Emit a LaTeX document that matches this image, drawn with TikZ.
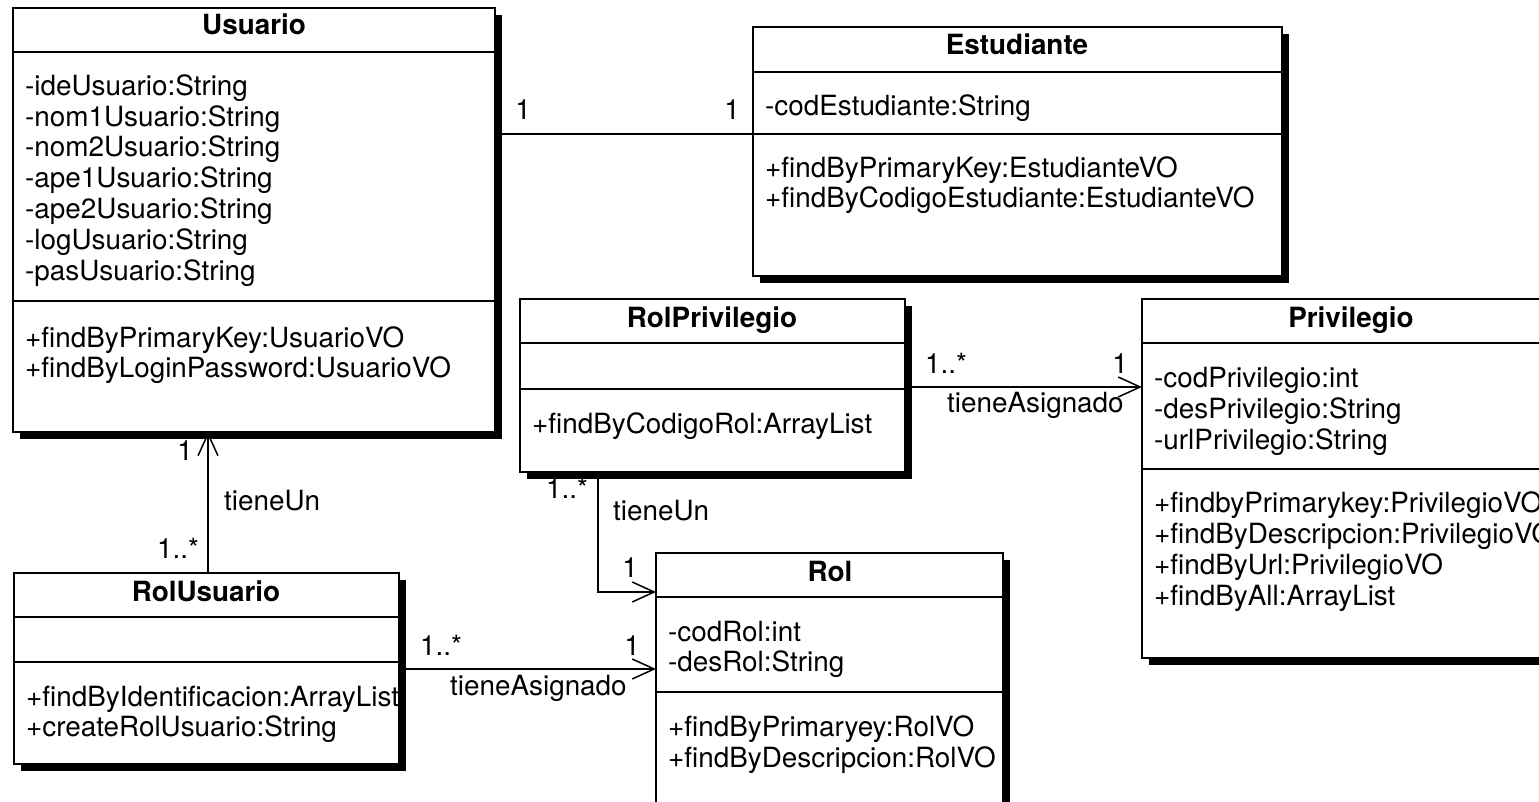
\documentclass[tikz,border=0pt]{standalone}
\usepackage{fontspec}
\setmainfont{TeX Gyre Heros}
\usetikzlibrary{arrows.meta,shadows}
\newcommand\umlfont{\fontsize{27.85}{30.8}\selectfont}
\newcommand\umlbold{\fontsize{27.85}{30.8}\selectfont\bfseries}
\begin{document}
\begin{tikzpicture}[x=1pt,y=-1pt,
  classbox/.style={draw, line width=2pt, fill=white, anchor=north west, inner sep=0pt, outer sep=0pt,
    drop shadow={shadow xshift=7pt, shadow yshift=-7pt, fill=black, opacity=1}},
  sepline/.style={line width=1.6pt},
  txt/.style={anchor=base west, inner sep=0pt, font=\umlfont},
  ttl/.style={anchor=base, inner sep=0pt, font=\umlbold},
  lbl/.style={anchor=base west, inner sep=0pt, font=\umlfont},
  lblc/.style={anchor=base, inner sep=0pt, font=\umlfont},
  assoc/.style={line width=1.5pt},
  nav/.style={assoc, -{Straight Barb[length=22pt,width=20pt]}}]
\useasboundingbox (0,0) rectangle (1539,802);
\clip (0,0) rectangle (1539,802);

% ---------- Usuario ----------
\node[classbox, minimum width=482pt, minimum height=424pt] (usuario) at (13,8) {};
\draw[sepline] ([yshift=-44pt]usuario.north west) -- ([yshift=-44pt]usuario.north east);
\draw[sepline] ([yshift=-293pt]usuario.north west) -- ([yshift=-293pt]usuario.north east);
\node[ttl] (u-t) at (254,35) {Usuario};
\node[txt] (u-a1) at (25,96) {-ideUsuario:String};
\node[txt] (u-a2) at (25,127) {-nom1Usuario:String};
\node[txt] (u-a3) at (25,157) {-nom2Usuario:String};
\node[txt] (u-a4) at (25,188) {-ape1Usuario:String};
\node[txt] (u-a5) at (25,219) {-ape2Usuario:String};
\node[txt] (u-a6) at (25,250) {-logUsuario:String};
\node[txt] (u-a7) at (25,280) {-pasUsuario:String};
\node[txt] (u-o1) at (25,347) {+findByPrimaryKey:UsuarioVO};
\node[txt] (u-o2) at (25,377) {+findByLoginPassword:UsuarioVO};

% ---------- Estudiante ----------
\node[classbox, minimum width=529pt, minimum height=249pt] (estudiante) at (753,27) {};
\draw[sepline] ([yshift=-45pt]estudiante.north west) -- ([yshift=-45pt]estudiante.north east);
\draw[sepline] ([yshift=-107pt]estudiante.north west) -- ([yshift=-107pt]estudiante.north east);
\node[ttl] (e-t) at (1017,55) {Estudiante};
\node[txt] (e-a1) at (765,116) {-codEstudiante:String};
\node[txt] (e-o1) at (765,178) {+findByPrimaryKey:EstudianteVO};
\node[txt] (e-o2) at (765,208) {+findByCodigoEstudiante:EstudianteVO};

% ---------- RolPrivilegio ----------
\node[classbox, minimum width=385pt, minimum height=173pt] (rolpriv) at (520,299) {};
\draw[sepline] ([yshift=-44pt]rolpriv.north west) -- ([yshift=-44pt]rolpriv.north east);
\draw[sepline] ([yshift=-90pt]rolpriv.north west) -- ([yshift=-90pt]rolpriv.north east);
\node[ttl] (rp-t) at (712,327) {RolPrivilegio};
\node[txt] (rp-o1) at (532,433) {+findByCodigoRol:ArrayList};

% ---------- Privilegio ----------
\node[classbox, minimum width=419pt, minimum height=359pt] (privilegio) at (1142,299) {};
\draw[sepline] ([yshift=-44pt]privilegio.north west) -- ([yshift=-44pt]privilegio.north east);
\draw[sepline] ([yshift=-170pt]privilegio.north west) -- ([yshift=-170pt]privilegio.north east);
\node[ttl] (p-t) at (1351,327) {Privilegio};
\node[txt] (p-a1) at (1154,387) {-codPrivilegio:int};
\node[txt] (p-a2) at (1154,418) {-desPrivilegio:String};
\node[txt] (p-a3) at (1154,449) {-urlPrivilegio:String};
\node[txt] (p-o1) at (1154,512) {+findbyPrimarykey:PrivilegioVO};
\node[txt] (p-o2) at (1154,543) {+findByDescripcion:PrivilegioVO};
\node[txt] (p-o3) at (1154,574) {+findByUrl:PrivilegioVO};
\node[txt] (p-o4) at (1154,605) {+findByAll:ArrayList};

% ---------- Rol ----------
\node[classbox, minimum width=347pt, minimum height=269pt] (rol) at (656,553) {};
\draw[sepline] ([yshift=-44pt]rol.north west) -- ([yshift=-44pt]rol.north east);
\draw[sepline] ([yshift=-139pt]rol.north west) -- ([yshift=-139pt]rol.north east);
\node[ttl] (r-t) at (830,581) {Rol};
\node[txt] (r-a1) at (668,641) {-codRol:int};
\node[txt] (r-a2) at (668,671) {-desRol:String};
\node[txt] (r-o1) at (668,736) {+findByPrimaryey:RolVO};
\node[txt] (r-o2) at (668,767) {+findByDescripcion:RolVO};

% ---------- RolUsuario ----------
\node[classbox, minimum width=385pt, minimum height=191pt] (rolusuario) at (14,573) {};
\draw[sepline] ([yshift=-44pt]rolusuario.north west) -- ([yshift=-44pt]rolusuario.north east);
\draw[sepline] ([yshift=-89pt]rolusuario.north west) -- ([yshift=-89pt]rolusuario.north east);
\node[ttl] (ru-t) at (206,601) {RolUsuario};
\node[txt] (ru-o1) at (26,706) {+findByIdentificacion:ArrayList};
\node[txt] (ru-o2) at (26,736) {+createRolUsuario:String};

% ---------- Associations ----------
% Usuario -- Estudiante
\draw[assoc] ([yshift=-107pt]estudiante.north west -| usuario.east) -- ([yshift=-107pt]estudiante.north west);
\node[lblc] (m1a) at (523,120) {1};
\node[lblc] (m1b) at (732,120) {1};

% RolPrivilegio -> Privilegio
\draw[nav] ([yshift=-88pt]privilegio.north west -| rolpriv.east) -- ([yshift=-88pt]privilegio.north west);
\node[lbl] (m2a) at (925,373) {1..*};
\node[lblc] (m2b) at (1120,373) {1};
\node[lbl] (m2c) at (947,412) {tieneAsignado};

% RolPrivilegio -> Rol
\draw[nav] ([xshift=78pt]rolpriv.south west) |- ([yshift=-39pt]rol.north west);
\node[lbl] (m3a) at (546,498) {1..*};
\node[lbl] (m3c) at (613,520) {tieneUn};
\node[lblc] (m3b) at (630,577) {1};

% RolUsuario -> Usuario
\draw[nav] ([xshift=194pt]rolusuario.north west) -- ([xshift=194pt]rolusuario.north west |- usuario.south);
\node[lblc] (m4b) at (185,460) {1};
\node[lbl] (m4c) at (224,510) {tieneUn};
\node[lbl] (m4a) at (157,558) {1..*};

% RolUsuario -> Rol
\draw[nav] ([yshift=-116pt]rol.north west -| rolusuario.east) -- ([yshift=-116pt]rol.north west);
\node[lbl] (m5a) at (420,655) {1..*};
\node[lblc] (m5b) at (632,655) {1};
\node[lbl] (m5c) at (450,695) {tieneAsignado};
\end{tikzpicture}
\end{document}
